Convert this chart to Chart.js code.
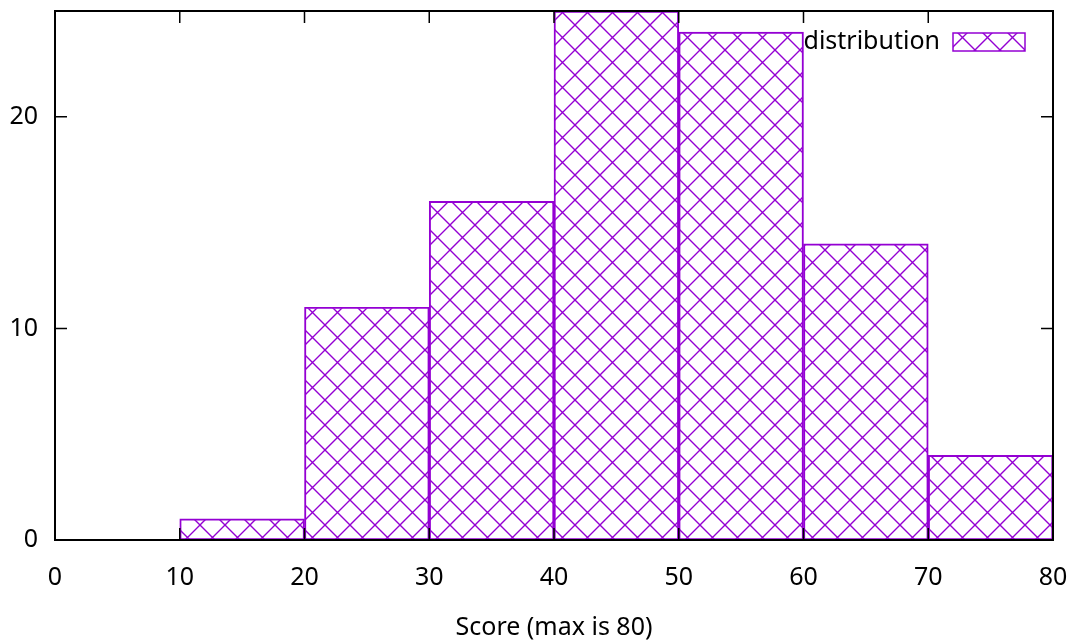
<!DOCTYPE html>
<html>
<head>
<meta charset="utf-8">
<script src="https://cdn.jsdelivr.net/npm/chart.js@4/dist/chart.umd.min.js"></script>
<style>
  html, body { margin: 0; padding: 0; background: #fff; }
  #wrap { width: 1074px; height: 641px; }
</style>
</head>
<body>
<div id="wrap"><canvas id="hist"></canvas></div>
<script>
// bin centres and counts
const binCentres = [15, 25, 35, 45, 55, 65, 75];
const counts = [1, 11, 16, 25, 24, 14, 4];
const xTicks = [0, 10, 20, 30, 40, 50, 60, 70, 80];
const yTicks = [0, 10, 20];
const seriesLabel = 'distribution';
const xTitle = 'Score (max is 80)';

const violet = '#9400d3';
const fontFamily = "'Noto Sans', 'Open Sans', sans-serif";
const fontSize = 25;

// cross hatch like gnuplot fillstyle pattern
const makeHatch = () => {
    const c = document.createElement('canvas');
    c.width = 25; c.height = 25;
    const g = c.getContext('2d');
    g.strokeStyle = violet;
    g.lineWidth = 1.4;
    g.beginPath();
    g.moveTo(0, 0); g.lineTo(25, 25);
    g.moveTo(25, 0); g.lineTo(0, 25);
    g.stroke();
    return g.createPattern(c, 'repeat');
};
const hatch = makeHatch();

// frame, inward ticks on all sides, and the key
const framePlugin = {
    id: 'frame',
    afterDatasetsDraw(chart) {
        const ctx = chart.ctx;
        const a = chart.chartArea;
        const xs = chart.scales.x, ys = chart.scales.y;
        ctx.save();
        ctx.strokeStyle = '#000';
        ctx.lineWidth = 1.5;
        ctx.beginPath();
        xTicks.forEach(v => {
            const px = xs.getPixelForValue(v);
            ctx.moveTo(px, a.bottom); ctx.lineTo(px, a.bottom - 12);
            ctx.moveTo(px, a.top); ctx.lineTo(px, a.top + 12);
        });
        yTicks.forEach(v => {
            const py = ys.getPixelForValue(v);
            ctx.moveTo(a.left, py); ctx.lineTo(a.left + 12, py);
            ctx.moveTo(a.right, py); ctx.lineTo(a.right - 12, py);
        });
        ctx.stroke();
        ctx.lineWidth = 2;
        ctx.strokeRect(a.left, a.top, a.right - a.left, a.bottom - a.top);

        // key
        const boxR = a.right - 28, boxW = 72, boxH = 18, boxT = a.top + 22;
        ctx.fillStyle = hatch;
        ctx.fillRect(boxR - boxW, boxT, boxW, boxH);
        ctx.strokeStyle = violet;
        ctx.lineWidth = 1.5;
        ctx.strokeRect(boxR - boxW, boxT, boxW, boxH);
        ctx.fillStyle = '#000';
        ctx.font = fontSize + 'px ' + fontFamily;
        ctx.textAlign = 'right';
        ctx.textBaseline = 'middle';
        ctx.fillText(chart.data.datasets[0].label, boxR - boxW - 13, boxT + boxH / 2);
        ctx.restore();
    }
};

const ctx = document.getElementById('hist').getContext('2d');
const myChart = new Chart(ctx, {
    type: 'bar',
    data: {
        datasets: [{
            label: seriesLabel,
            data: binCentres.map((x, i) => ({ x: x, y: counts[i] })),
            backgroundColor: hatch,
            borderColor: violet,
            borderWidth: 1.3,
            borderSkipped: false,
            barPercentage: 1,
            categoryPercentage: 1
        }]
    },
    options: {
        responsive: true,
        maintainAspectRatio: false,
        animation: false,
        layout: { padding: { top: 11, right: 21, left: 0, bottom: 0 } },
        plugins: {
            legend: { display: false },
            tooltip: { enabled: false }
        },
        scales: {
            x: {
                type: 'linear',
                offset: false,
                min: 0,
                max: 80,
                afterBuildTicks: s => { s.ticks = xTicks.map(v => ({ value: v })); },
                afterFit: s => { s.height = 101; s.paddingLeft = 0; s.paddingRight = 0; },
                grid: { display: false, drawTicks: false, offset: false },
                border: { display: false },
                ticks: {
                    color: '#000',
                    padding: 23,
                    font: { size: fontSize, family: fontFamily }
                },
                title: {
                    display: true,
                    text: xTitle,
                    color: '#000',
                    padding: { top: 18, bottom: -2 },
                    font: { size: fontSize, family: fontFamily }
                }
            },
            y: {
                min: 0,
                max: 25,
                afterBuildTicks: s => { s.ticks = yTicks.map(v => ({ value: v })); },
                afterFit: s => { s.width = 55; s.paddingTop = 0; s.paddingBottom = 0; },
                grid: { display: false, drawTicks: false },
                border: { display: false },
                ticks: {
                    color: '#000',
                    padding: 17,
                    font: { size: fontSize, family: fontFamily }
                }
            }
        }
    },
    plugins: [framePlugin]
});
</script>
</body>
</html>
